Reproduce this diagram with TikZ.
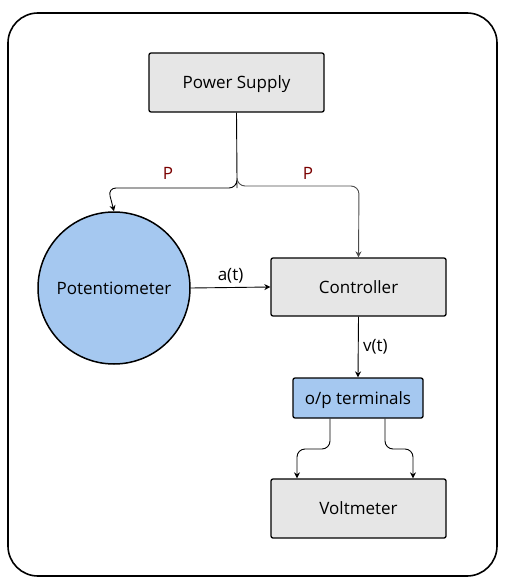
\documentclass[tikz,border=0pt]{standalone}
\usepackage{fontspec}
\setmainfont{Open Sans}
\usetikzlibrary{arrows.meta}
\definecolor{boxgray}{HTML}{E6E6E6}
\definecolor{boxblue}{HTML}{A5C8F0}
\definecolor{plabel}{HTML}{7A0000}
\begin{document}
\begin{tikzpicture}[x=1pt,y=-1pt,
  txt/.style={font=\fontsize{17}{20}\selectfont},
  graybox/.style={txt,draw=black,line width=1.3pt,fill=boxgray,rounded corners=2pt,inner sep=0pt,text depth=-1pt},
  bluebox/.style={txt,draw=black,line width=1.3pt,fill=boxblue,rounded corners=2pt,inner sep=0pt,text depth=-1pt},
  conn/.style={line width=0.9pt,-{Stealth[length=6pt,width=6pt]}},
  lbl/.style={txt}]
\useasboundingbox (0,0) rectangle (506,586);
\draw[line width=1.6pt,rounded corners=30pt] (8,13) rectangle (497,576);
\node[graybox,minimum width=175pt,minimum height=59pt] (ps) at (236.5,82.5) {Power Supply};
\node[txt,draw=black,line width=1.5pt,fill=boxblue,circle,minimum size=152pt,inner sep=0pt,text depth=-1pt] (pot) at (114,288) {Potentiometer};
\node[graybox,minimum width=175pt,minimum height=58pt] (ctl) at (358.5,287) {Controller};
\node[bluebox,minimum width=130pt,minimum height=40pt] (op) at (358,398) {o/p terminals};
\node[graybox,minimum width=175pt,minimum height=59pt] (vm) at (358.5,508.5) {Voltmeter};
\coordinate (split) at (237,180);
\draw[conn,rounded corners=8pt] (ps.south) -- (split) |- (108,188) -- (pot.north);
\draw[conn,draw=black!70,rounded corners=8pt] (split) |- (359,186) -- (ctl.north);
\node[lbl,text=plabel] (p1) at (168,173) {P};
\node[lbl,text=plabel] (p2) at (308,173) {P};
\draw[conn] (pot.east) -- (ctl.west) node[lbl,midway,above=1pt] (at) {a(t)};
\draw[conn] (ctl.south) -- (op.north) node[lbl,midway,right=1pt] (vt) {v(t)};
\draw[conn,rounded corners=8pt] (op.south -| 330,0) |- (297,449) -- (vm.north -| 297,0);
\draw[conn,rounded corners=8pt] (op.south -| 385,0) |- (413,449) -- (vm.north -| 413,0);
\end{tikzpicture}
\end{document}
